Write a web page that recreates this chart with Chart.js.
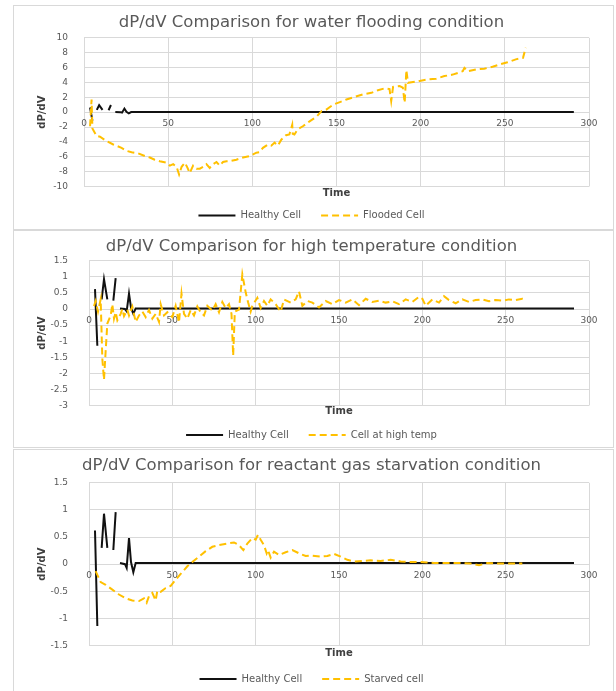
<!DOCTYPE html>
<html>
<head>
<meta charset="utf-8">
<title>dP/dV comparisons</title>
<script src="https://cdn.jsdelivr.net/npm/chart.js@4.4.1/dist/chart.umd.min.js"></script>
<style>
    body { margin: 0; background: #fff; }
    .panel { position: absolute; left: 13px; width: 601px; border: 1px solid #d9d9d9; box-sizing: border-box; background: #fff; }
    .panel canvas { display: block; }
    #panel1 { top: 5px; height: 225px; }
    #panel2 { top: 230px; height: 218px; }
    #panel3 { top: 449px; height: 250px; }
</style>
</head>
<body>
<div class="panel" id="panel1"><canvas id="floodChart" width="599" height="223"></canvas></div>
<div class="panel" id="panel2"><canvas id="tempChart" width="599" height="216"></canvas></div>
<div class="panel" id="panel3"><canvas id="starveChart" width="599" height="248"></canvas></div>

<script>
// Healthy cell reference curve (same in all three plots), null = gap in the line
const healthyTime = [3.6, 5, 6, 7.6, 9, 11, 13, 14.6, 16, 17, 18.6, 21.6, 22.6, 24, 25.2, 26.6, 28, 291];
const healthyDpdv = [0.62, -1.14, null, 0.3, 0.93, 0.3, null, 0.26, 0.96, null, 0.02, 0, -0.07, 0.48, 0.04, -0.15, 0.02, 0.02];

// Water flooding
const floodTime = [3.6, 4.5, 5, 7.5, 9.5, 13.4, 17.4, 22.3, 25.3, 28.3, 32.2, 36.2, 39.1, 42, 45, 49, 51, 53, 55, 56.5, 58, 60,
    61.5, 62.8, 64.8, 66.8, 68.8, 70.8, 72.7, 74.7, 76.7, 78.7, 80.6, 82.6, 84.6, 86.6, 90.5, 94.5, 98.4, 102.4, 104.3, 106.3,
    109.3, 111.3, 113.2, 115.2, 117.2, 120, 122, 123.7, 124, 125, 127, 130, 134.2, 138.2, 141.1, 144, 148, 152, 155.9, 160.8,
    165.8, 170.7, 174.6, 178.6, 181.5, 182.5, 183.6, 187.5, 189.4, 190.5, 191.5, 192.5, 195.5, 199.4, 204.2, 209.2, 214.1,
    219, 225, 226, 228, 232.8, 237.8, 242.7, 246.7, 251.6, 256.5, 260.8, 262.4];
const floodDpdv = [-1.9, 1.7, -2.2, -3.2, -3.3, -3.9, -4.35, -4.8, -5.2, -5.4, -5.55, -5.9, -6.1, -6.4, -6.6, -6.8, -7.2, -7.0, -7.35, -8.4, -7.35, -6.8,
    -7.5, -8.2, -7.2, -7.6, -7.6, -7.35, -7.0, -7.5, -7.0, -6.7, -7.2, -6.7, -6.6, -6.6, -6.4, -6.1, -5.9, -5.45, -5.4, -4.8,
    -4.35, -4.5, -4.1, -4.5, -3.7, -3.1, -3.0, -1.7, -2.9, -3.0, -2.3, -1.9, -1.2, -0.6, 0.15, 0.35, 1.0, 1.35, 1.7, 2.05,
    2.4, 2.6, 2.95, 3.2, 3.1, 1.5, 3.4, 3.5, 3.3, 1.25, 5.65, 3.95, 4.05, 4.2, 4.4, 4.5, 4.85,
    5.05, 5.5, 5.95, 5.5, 5.75, 5.85, 6.1, 6.4, 6.7, 7.1, 7.3, 8.65];

// High temperature
const tempTime = [3, 4, 5.4, 7, 8, 9, 10, 11, 13, 14, 15, 16, 17, 19, 20, 21, 23, 24, 26, 28, 30, 32, 34, 36, 38, 40, 42, 43, 45, 47,
    50, 52, 54, 55.5, 57, 59, 61, 63, 65, 67, 69, 71, 74, 76, 78, 80, 82, 84, 85.5, 86.5, 87.5, 90, 92, 94, 95.5, 97, 98,
    101, 103, 105, 107, 109, 112, 115, 117, 121, 124, 126, 128, 131, 134, 138, 142, 146, 150, 154, 158, 162, 166, 170,
    174, 178, 182, 186, 190, 194, 198, 200, 202, 206, 210, 213, 216, 220, 224, 228, 232, 236, 240, 244, 248, 252, 256, 260, 262];
const tempDpdv = [0.09, 0.25, -0.08, 0.3, -1.55, -2.2, -1.3, -0.45, -0.2, 0.15, -0.3, -0.1, -0.35, -0.15, 0.0, -0.22, -0.02, -0.2, 0.08, -0.4,
    -0.2, -0.08, -0.25, -0.03, -0.3, -0.15, -0.4, 0.15, -0.2, -0.1,
    -0.25, 0.1, -0.42, 0.48, -0.15, -0.3, -0.03, -0.2, 0.08, -0.1, -0.2, 0.1, -0.05, 0.15, -0.1, 0.22, 0.03, 0.15, -0.15, -1.45, -0.08, -0.02, 1.08, 0.52, 0.2, -0.08, 0.1,
    0.35, 0.03, 0.25, 0.1, 0.3, 0.15, -0.08, 0.3, 0.2, 0.3, 0.55, 0.1, 0.25, 0.2, 0.05, 0.25, 0.15, 0.28, 0.2, 0.3, 0.12, 0.32, 0.22,
    0.26, 0.2, 0.24, 0.15, 0.3, 0.22, 0.38, 0.32, 0.1, 0.3, 0.2, 0.4, 0.28, 0.18, 0.3, 0.22, 0.28, 0.3, 0.24, 0.28, 0.26, 0.3, 0.28, 0.32, 0.3];

// Reactant gas starvation
const starveTime = [4, 7, 10, 14, 18, 22, 26, 30, 33, 34.6, 36, 38, 40, 41, 43, 46, 49, 52, 55, 59, 62, 66, 70, 74, 78, 83, 87, 90, 92.6,
    95, 98, 100, 101.4, 103, 105, 106.6, 107.4, 109, 111, 114, 118, 122, 126, 130, 133, 139, 143, 147, 151, 155, 159, 164, 169,
    175, 181, 187, 193, 199, 207, 215, 223, 229, 234, 239, 247, 255, 260];
const starveDpdv = [-0.13, -0.33, -0.38, -0.47, -0.56, -0.63, -0.67, -0.68, -0.63, -0.71, -0.59, -0.53, -0.67, -0.49, -0.51, -0.44, -0.4, -0.29, -0.18, -0.04, 0.04, 0.14, 0.24, 0.32, 0.35, 0.38, 0.4, 0.35, 0.26,
    0.38, 0.48, 0.45, 0.54, 0.45, 0.35, 0.2, 0.26, 0.12, 0.23, 0.17, 0.22, 0.26, 0.2, 0.15, 0.16, 0.14, 0.15, 0.19, 0.14, 0.08, 0.05, 0.06, 0.07,
    0.06, 0.08, 0.05, 0.04, 0.04, 0.02, 0.02, 0.02, 0.01, -0.02, 0.02, 0.01, 0.01, 0.01];

const FONT = "'DejaVu Sans', 'Liberation Sans', sans-serif";
const GRID = '#d9d9d9';
const TEXT = '#595959';

function toPoints(xs, ys) {
    return xs.map((x, i) => ({ x: x, y: ys[i] }));
}

// legend lines should look like the plotted lines (dashes + width)
function legendLabels(chart) {
    const items = Chart.defaults.plugins.legend.labels.generateLabels(chart);
    items.forEach(item => {
        const ds = chart.data.datasets[item.datasetIndex];
        item.lineDash = ds.borderDash || [];
        item.lineWidth = ds.borderWidth;
        item.strokeStyle = ds.borderColor;
    });
    return items.sort((a, b) => a.datasetIndex - b.datasetIndex);
}

function buildChart(canvasId, opts) {
    const ctx = document.getElementById(canvasId).getContext('2d');
    return new Chart(ctx, {
        type: 'line',
        data: {
            datasets: [{
                label: 'Healthy Cell',
                data: toPoints(healthyTime, healthyDpdv),
                borderColor: '#111111',
                backgroundColor: '#111111',
                borderWidth: 2,
                pointRadius: 0,
                spanGaps: false,
                order: 1
            }, {
                label: opts.label,
                data: toPoints(opts.time, opts.values),
                borderColor: '#ffc000',
                backgroundColor: '#ffc000',
                borderWidth: 2,
                borderDash: [7, 4],
                pointRadius: 0,
                order: 0   // orange drawn over the black line
            }]
        },
        options: {
            responsive: false,
            animation: false,
            layout: { padding: { left: 20, right: 24, top: 0, bottom: opts.bottomPad } },
            plugins: {
                title: {
                    display: true,
                    text: opts.title,
                    color: TEXT,
                    font: { family: FONT, size: 16.5, weight: 'normal' },
                    padding: opts.titlePadding
                },
                legend: {
                    position: 'bottom',
                    labels: {
                        usePointStyle: true,
                        pointStyle: 'line',
                        pointStyleWidth: 37,
                        color: TEXT,
                        font: { family: FONT, size: 10 },
                        padding: 20,
                        generateLabels: legendLabels
                    }
                },
                tooltip: { enabled: false }
            },
            scales: {
                x: {
                    type: 'linear',
                    min: 0,
                    max: 300,
                    position: { y: 0 },
                    ticks: { stepSize: 50, color: TEXT, font: { family: FONT, size: 9 }, padding: 6 },
                    grid: { color: GRID, drawTicks: false },
                    border: { display: false }
                },
                xTitle: {
                    type: 'linear',
                    axis: 'x',
                    min: 0,
                    max: 300,
                    position: 'bottom',
                    ticks: { display: false },
                    grid: { display: false, drawTicks: false },
                    border: { display: false },
                    title: {
                        display: true,
                        text: 'Time',
                        color: '#404040',
                        font: { family: FONT, size: 10, weight: 'bold' },
                        padding: opts.timePadding
                    }
                },
                y: {
                    min: opts.yMin,
                    max: opts.yMax,
                    afterFit: scale => { scale.width = opts.yWidth; },
                    ticks: {
                        stepSize: opts.yStep,
                        color: TEXT,
                        font: { family: FONT, size: 9 },
                        padding: opts.yTickPad,
                        callback: value => String(Number(value.toFixed(2)))
                    },
                    grid: { color: GRID, drawTicks: false },
                    border: { display: false },
                    title: {
                        display: true,
                        text: 'dP/dV',
                        color: '#404040',
                        font: { family: FONT, size: 10, weight: 'bold' },
                        padding: 2
                    }
                }
            }
        }
    });
}

buildChart('floodChart', {
    title: 'dP/dV Comparison for water flooding condition',
    label: 'Flooded Cell',
    time: floodTime,
    values: floodDpdv,
    yMin: -10, yMax: 10, yStep: 2,
    yWidth: 50, yTickPad: 16,
    bottomPad: -1.5,
    titlePadding: { top: 7, bottom: 5 },
    timePadding: { top: 1, bottom: -9 }
});

buildChart('tempChart', {
    title: 'dP/dV Comparison for high temperature condition',
    label: 'Cell at high temp',
    time: tempTime,
    values: tempDpdv,
    yMin: -3, yMax: 1.5, yStep: 0.5,
    yWidth: 55, yTickPad: 21,
    bottomPad: -3,
    titlePadding: { top: 6, bottom: 4 },
    timePadding: { top: 0, bottom: -7.5 }
});

buildChart('starveChart', {
    title: 'dP/dV Comparison for reactant gas starvation condition',
    label: 'Starved cell',
    time: starveTime,
    values: starveDpdv,
    yMin: -1.5, yMax: 1.5, yStep: 0.5,
    yWidth: 55, yTickPad: 21,
    bottomPad: 4,
    titlePadding: { top: 6, bottom: 7 },
    timePadding: { top: 2, bottom: -5.5 }
});
</script>
</body>
</html>
